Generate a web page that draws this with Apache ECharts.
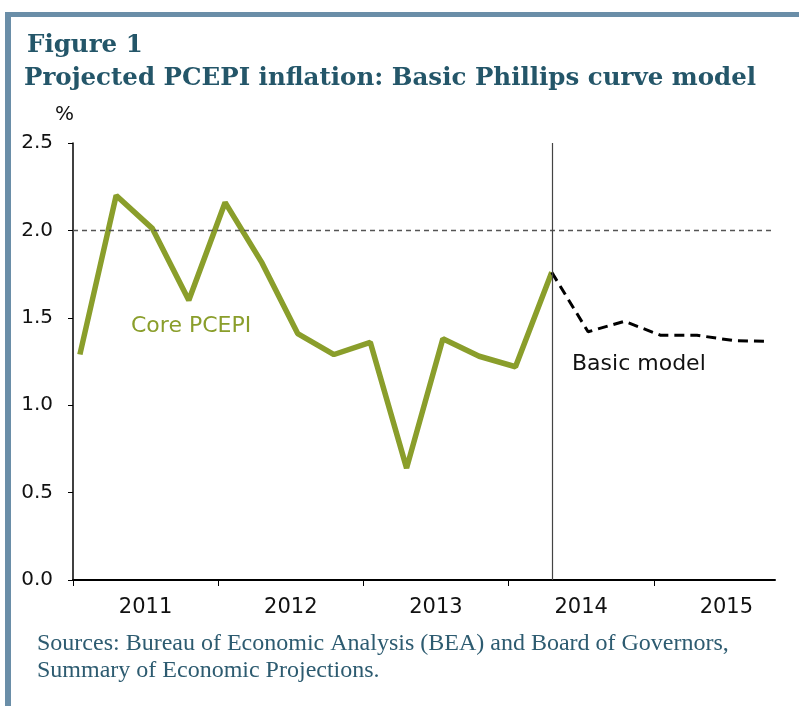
<!DOCTYPE html>
<html>
<head>
<meta charset="utf-8">
<script src="https://cdn.jsdelivr.net/npm/echarts@6/dist/echarts.min.js"></script>
<style>
html,body{margin:0;padding:0;background:#fff;}
#chart{width:799px;height:706px;}
</style>
</head>
<body>
<div id="chart"></div>
<script>
// ---- data ----
const quarters = ['2011Q1','2011Q2','2011Q3','2011Q4','2012Q1','2012Q2','2012Q3','2012Q4',
  '2013Q1','2013Q2','2013Q3','2013Q4','2014Q1','2014Q2','2014Q3','2014Q4',
  '2015Q1','2015Q2','2015Q3','2015Q4'];
const coreValues = [1.29, 2.20, 2.01, 1.60, 2.16, 1.82, 1.41, 1.29, 1.36, 0.64, 1.38, 1.28, 1.22, 1.76];
const modelValues = [null, null, null, null, null, null, null, null, null, null, null, null, null,
  1.76, 1.42, 1.48, 1.40, 1.40, 1.37, 1.365];
const yearLabels = ['2011', '2012', '2013', '2014', '2015'];
const yTicks = [0, 0.5, 1.0, 1.5, 2.0, 2.5];
const targetRate = 2.0;
const projectionStart = 13; // index of 2014Q2

// ---- chart ----
const X0 = -0.19; // axis start offset in quarter units
const coreData = coreValues.map((v, i) => [i, v]);
const modelData = modelValues.map((v, i) => v == null ? null : [i, v]).filter(d => d);

const chart = echarts.init(document.getElementById('chart'), null, {renderer: 'canvas'});
const titleColor = '#245669';
const borderColor = '#6a8ea8';
chart.setOption({
  animation: false,
  backgroundColor: '#fff',
  grid: {left: 73, right: 24, top: 143, bottom: 126, containLabel: false},
  xAxis: {
    type: 'value',
    min: X0,
    max: 19.15,
    axisLine: {show: true, onZero: false, lineStyle: {color: '#000', width: 2}},
    axisTick: {show: true, length: 6, lineStyle: {color: '#000', width: 1},
      customValues: yearLabels.map((y, k) => X0 + 4 * k)},
    axisLabel: {
      customValues: yearLabels.map((y, k) => X0 + 4 * k + 2),
      formatter: v => yearLabels[Math.round((v - X0 - 2) / 4)],
      fontFamily: 'DejaVu Sans', fontSize: 21, color: '#111', margin: 17
    },
    splitLine: {show: false}
  },
  yAxis: {
    type: 'value',
    min: yTicks[0],
    max: yTicks[yTicks.length - 1],
    interval: 0.5,
    axisLine: {show: true, onZero: false, lineStyle: {color: '#000', width: 1.5}},
    axisTick: {show: true, length: 5, lineStyle: {color: '#000'}},
    axisLabel: {formatter: v => v.toFixed(1), fontFamily: 'DejaVu Sans', fontSize: 20, color: '#111', margin: 20},
    splitLine: {show: false}
  },
  series: [
    {
      name: 'Core PCEPI',
      type: 'line',
      data: coreData,
      symbol: 'none',
      lineStyle: {color: '#8a9e2b', width: 5.5},
      z: 3,
      markLine: {
        silent: true,
        symbol: 'none',
        label: {show: false},
        data: [
          {yAxis: targetRate, lineStyle: {color: '#555', type: [5, 4], width: 1.3}},
          {xAxis: projectionStart, lineStyle: {color: '#444', type: 'solid', width: 1.2}}
        ]
      }
    },
    {
      name: 'Basic model',
      type: 'line',
      data: modelData,
      symbol: 'none',
      lineStyle: {color: '#000', width: 3, type: [10, 6]},
      z: 4
    }
  ],
  graphic: [
    {type: 'rect', shape: {x: 5, y: 12, width: 794, height: 5}, style: {fill: borderColor}},
    {type: 'rect', shape: {x: 5, y: 12, width: 6, height: 694}, style: {fill: borderColor}},
    {type: 'text', left: 27, top: 33, style: {text: 'Figure 1', font: 'bold 24.5px "DejaVu Serif"', fill: titleColor}},
    {type: 'text', left: 24, top: 66, style: {text: 'Projected PCEPI inflation: Basic Phillips curve model', font: 'bold 24.5px "DejaVu Serif"', fill: titleColor}},
    {type: 'text', left: 55, top: 105, style: {text: '%', font: '20px "DejaVu Sans"', fill: '#111'}},
    {type: 'text', left: 131, top: 315, style: {text: 'Core PCEPI', font: '22px "DejaVu Sans"', fill: '#8a9e2b'}},
    {type: 'text', left: 572, top: 353, style: {text: 'Basic model', font: '22px "DejaVu Sans"', fill: '#111'}},
    {type: 'text', left: 37, top: 630, style: {text: 'Sources: Bureau of Economic Analysis (BEA) and Board of Governors,\nSummary of Economic Projections.', font: '24px "Liberation Serif"', lineHeight: 27, fill: '#2d5b70'}}
  ]
});
</script>
</body>
</html>
